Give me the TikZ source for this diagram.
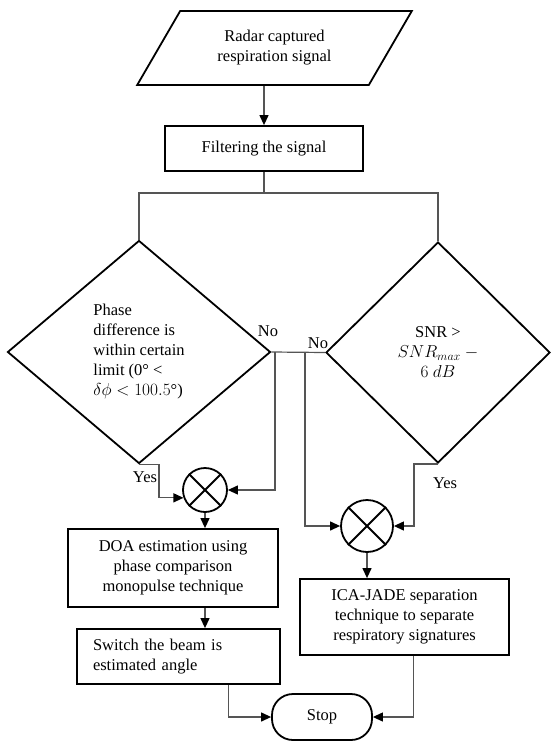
\documentclass[tikz,border=0pt]{standalone}
\usepackage{fontspec}
\setmainfont{Liberation Serif}
\usetikzlibrary{shapes.geometric,arrows.meta}
\definecolor{wire}{RGB}{85,85,85}

\begin{document}
\begin{tikzpicture}[x=1pt,y=-1pt,
  every node/.style={font=\fontsize{16.5}{20}\selectfont},
  io/.style={draw, line width=1.8pt, trapezium, trapezium left angle=53.4, trapezium right angle=126.6, trapezium stretches=true, minimum width=275pt, minimum height=74pt, inner sep=0pt, align=center},
  box/.style={draw, line width=1.8pt, rectangle, inner sep=0pt, align=center},
  dec/.style={draw, line width=1.8pt, diamond, inner sep=0pt},
  mix/.style={draw, line width=1.8pt, circle, inner sep=0pt},
  term/.style={draw, line width=1.8pt, rounded corners=21pt, minimum width=100pt, minimum height=46pt},
  line/.style={wire, line width=1.2pt},
  arr/.style={line, -{Triangle[length=10pt,width=9pt,color=black]}}]
\path[use as bounding box, fill=white] (0,0) rectangle (551,741);
\draw node(radar)[io] at (274.5,48) {Radar captured\\respiration signal};
\draw node(filt)[box, minimum width=198pt, minimum height=45pt] at (264,148.5) {Filtering the signal};
\draw node(phase)[dec, minimum width=263pt, minimum height=223pt, align=left] at (139,352) {Phase\\difference is\\within certain\\limit (0° <\\$\delta\phi<100.5$°)};
\draw node(snr)[dec, minimum width=224pt, minimum height=221pt, align=center] at (438,352.5) {SNR >\\$SNR_{max}\ -$\\$6\ dB$};
\draw node(mixa)[mix, minimum size=44pt] at (205,490) {};
\draw node(mixb)[mix, minimum size=52pt] at (367,526) {};
\draw node(doa)[box, minimum width=210pt, minimum height=78pt] at (173,568) {DOA estimation using\\phase comparison\\monopulse technique};
\draw node(beam)[box, text width=171pt, inner xsep=16pt, minimum height=55pt, align=left] at (178.5,656.5) {Switch the beam is\\estimated angle};
\draw node(ica)[box, minimum width=209pt, minimum height=76pt] at (404.5,617) {ICA-JADE separation\\technique to separate\\respiratory signatures};
\draw node(stop)[term] at (322,717) {Stop};
\draw node(noa)[] at (268,331) {No};
\draw node(nob)[] at (318,343) {No};
\draw node(yesa)[] at (145,477) {Yes};
\draw node(yesb)[] at (445,483) {Yes};
\draw[line width=1.8pt] (mixa.45) -- (mixa.225) (mixa.135) -- (mixa.315);
\draw[line width=1.8pt] (mixb.45) -- (mixb.225) (mixb.135) -- (mixb.315);
\coordinate (split) at (264,193);
\coordinate (taila) at (275,352);
\coordinate (tailb) at (305,352);
\draw[arr] (radar.south -| filt.north) -- (filt.north);
\draw[line] (filt.south) -- (split);
\draw[line] (phase.north) |- (split) -| (snr.north);
\draw[line] (phase.east) -- (snr.west);
\draw[arr] (taila) |- (mixa.east);
\draw[arr] (tailb) |- (mixb.west);
\draw[arr] (phase.south) -- ++(20,0) |- (mixa.200);
\draw[arr] (snr.south) -- ++(-24,0) |- (mixb.east);
\draw[arr] (mixa.south) -- (mixa.south |- doa.north);
\draw[arr] (mixb.south) -- (mixb.south |- ica.north);
\draw[arr] (mixa |- doa.south) -- (mixa |- beam.north);
\draw[arr] ([xshift=50pt]beam.south) |- (stop.west);
\draw[arr] ([xshift=9pt]ica.south) |- (stop.east);
\end{tikzpicture}
\end{document}
